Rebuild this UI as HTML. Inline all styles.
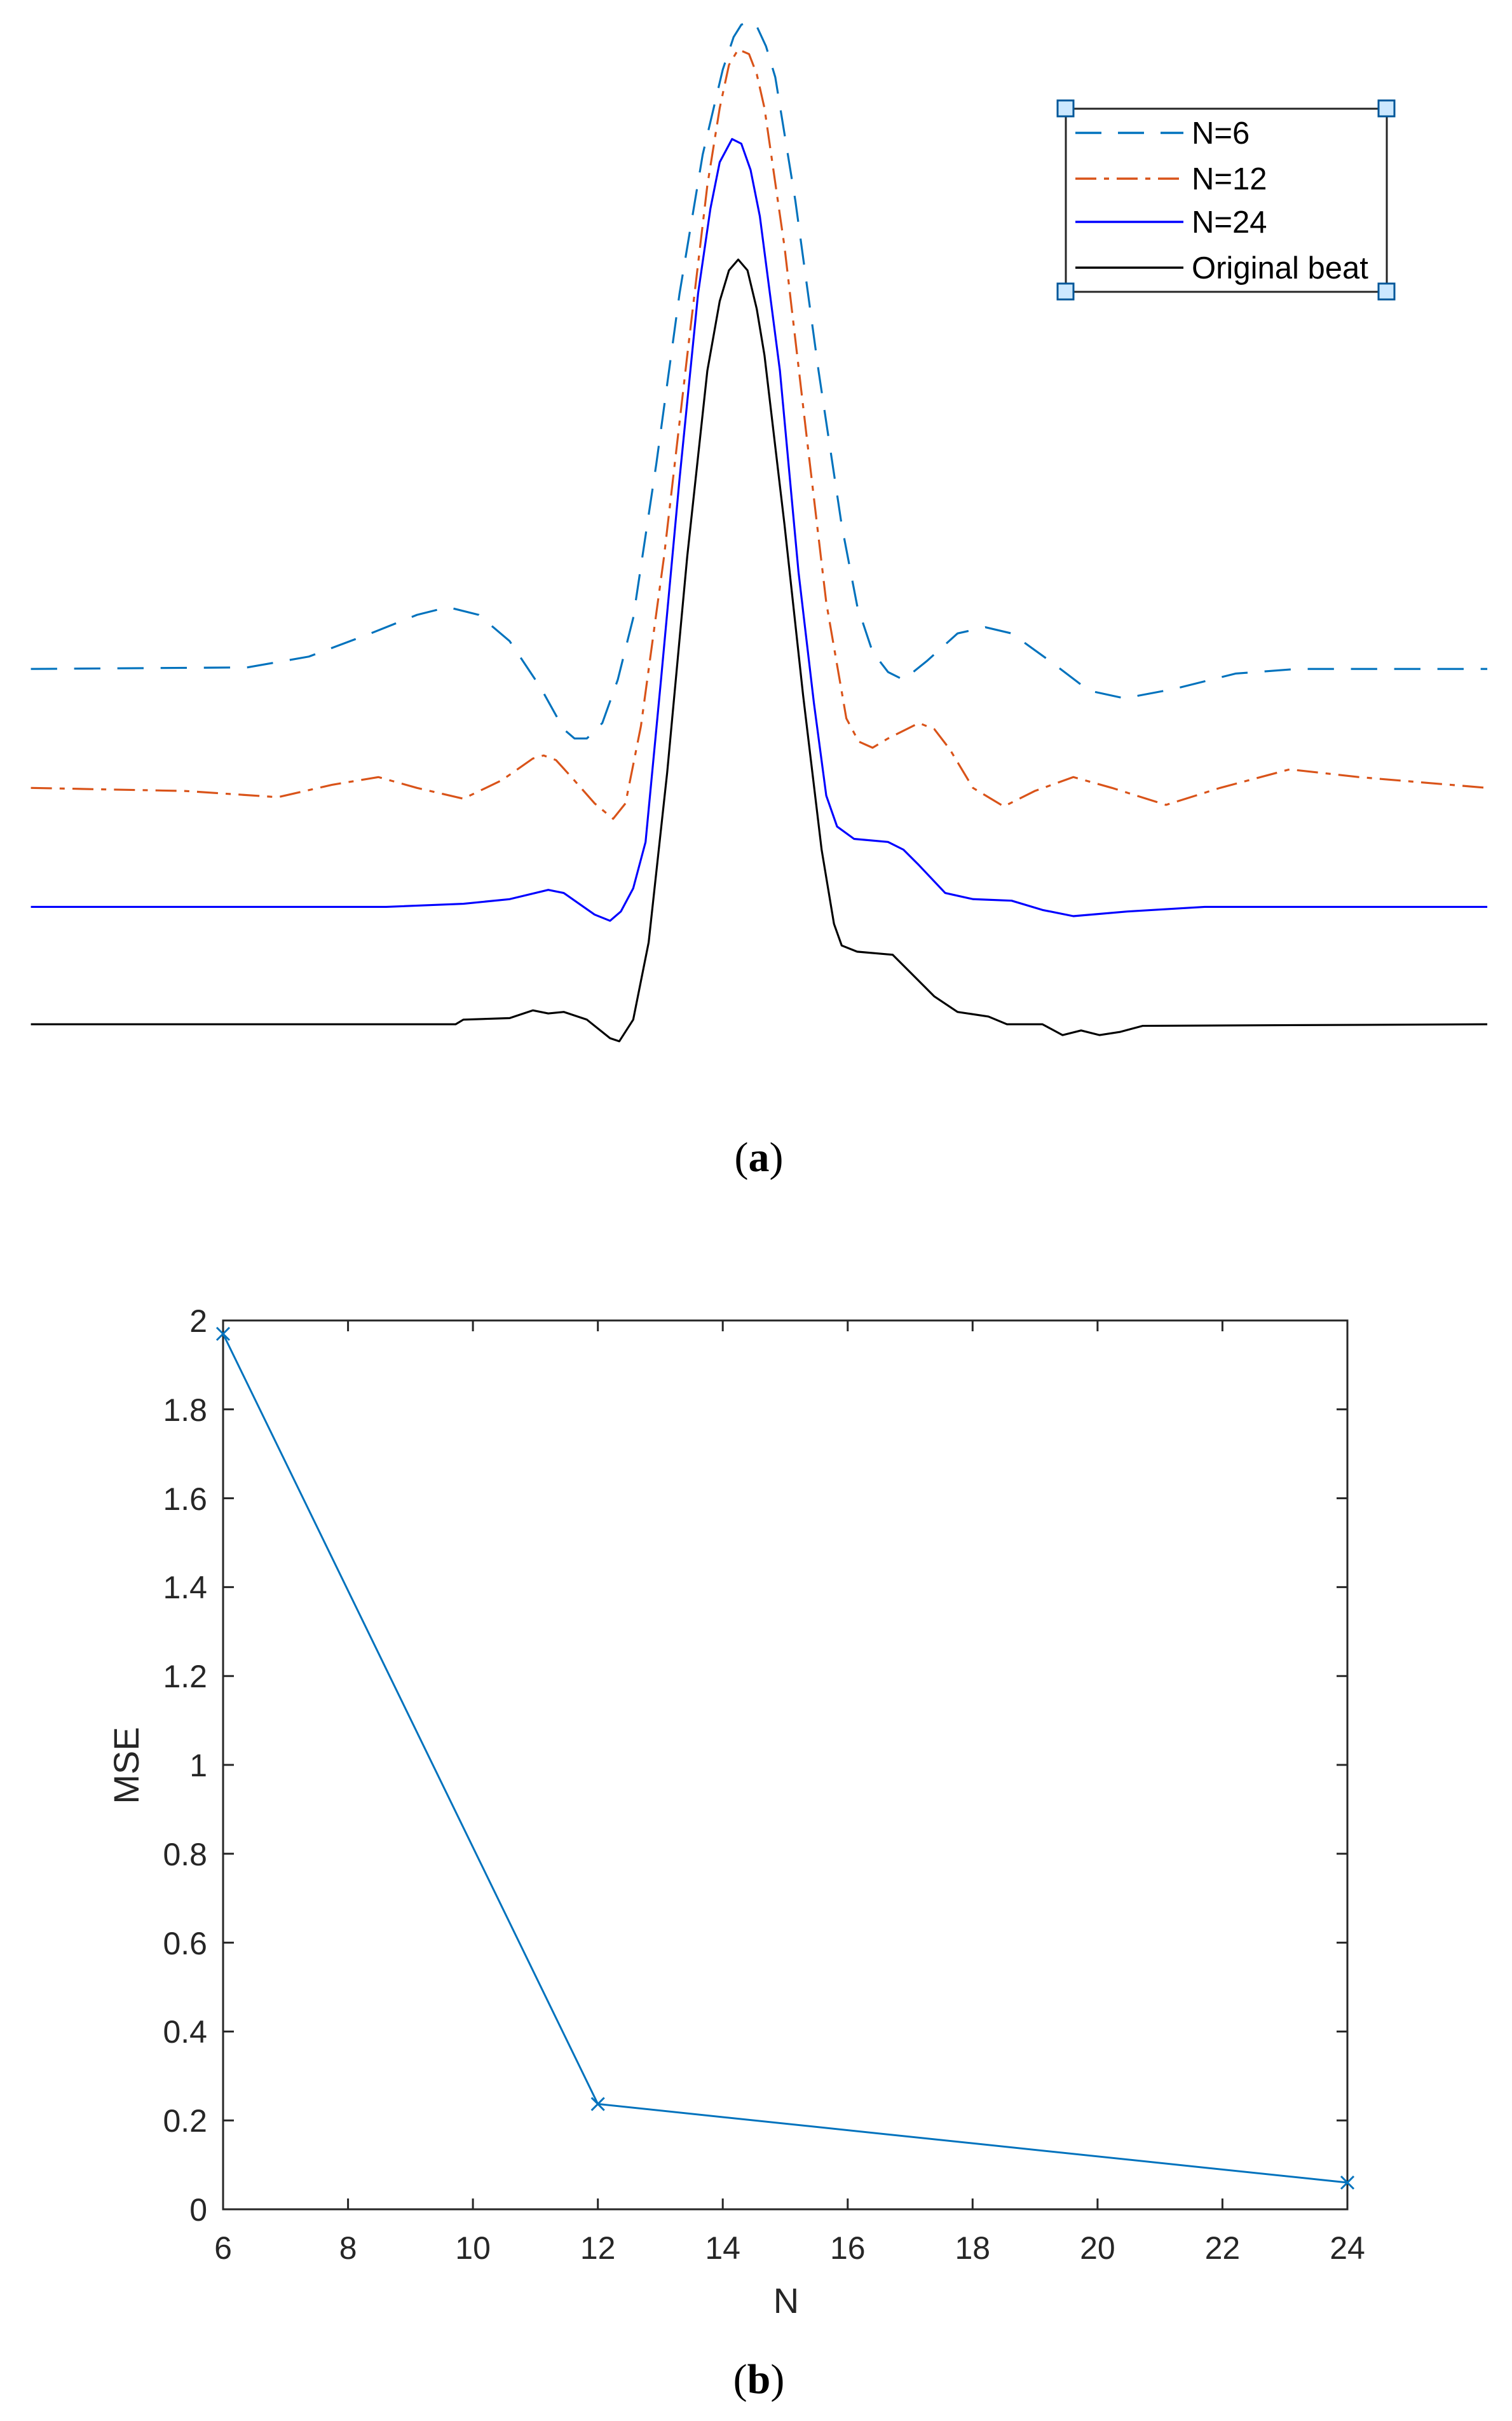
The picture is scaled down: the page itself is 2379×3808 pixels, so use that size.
<!DOCTYPE html>
<html><head><meta charset="utf-8"><style>html,body{margin:0;padding:0;background:#fff}svg{display:block}</style></head>
<body>
<svg width="2379" height="3808" viewBox="0 0 2379 3808" xmlns="http://www.w3.org/2000/svg">
<rect width="2379" height="3808" fill="#fff"/>
<g transform="scale(2.43)" fill="none" stroke-linejoin="round" stroke-linecap="butt" stroke-width="1.3">
<polyline stroke="#0072BD" stroke-dasharray="17,11" points="20,433 160,432 200,425 240,410 270,398 290,393 310,398 330,415 350,445 365,472 372,478 380,478 390,468 400,440 410,400 425,300 440,190 455,100 468,45 475,24 480,16 485,14 490,17 496,30 502,50 515,130 530,240 545,340 555,392 565,422 575,435 585,440 600,428 620,410 638,406 655,410 680,428 705,447 728,452 760,446 800,436 840,433 963,433"/>
<polyline stroke="#D95319" stroke-dasharray="13.6,5,3.3,5" points="20,510 120,512 180,516 215,508 245,503 270,510 300,517 325,505 345,491 352,489 360,492 370,503 385,520 397,530 405,520 415,470 430,360 445,230 458,120 466,70 472,42 478,32 485,35 490,48 495,70 508,160 522,280 535,390 548,465 556,480 565,484 575,478 595,468 605,472 615,485 630,510 650,522 670,512 695,503 720,510 755,521 790,510 835,498 880,503 963,510"/>
<polyline stroke="#0000FF" points="20,587 150,587 250,587 300,585 330,582 355,576 365,578 375,585 385,592 395,596 402,590 410,575 418,545 428,440 440,310 452,190 460,135 466,105 474,90 480,93 486,110 492,140 505,240 517,370 527,455 535,515 542,535 553,543 575,545 585,550 595,560 612,578 630,582 655,583 675,589 695,593 730,590 780,587 963,587"/>
<polyline stroke="#000" points="20,663 295,663 300,660 330,659 345,654 355,656 365,655 380,660 395,672 401,674 410,660 420,610 432,500 445,360 458,240 466,195 472,175 478,168 484,175 490,200 495,230 508,340 520,450 532,550 540,598 545,612 555,616 578,618 590,630 605,645 620,655 640,658 652,663 675,663 688,670 700,667 712,670 725,668 740,664 963,663"/>
</g>
<!-- legend -->
<rect x="1677" y="171" width="505" height="288" fill="#fff" stroke="#262626" stroke-width="3"/>
<g stroke-width="3.5" fill="none">
<line x1="1692" y1="209" x2="1862" y2="209" stroke="#0072BD" stroke-dasharray="41,26"/>
<line x1="1692" y1="281" x2="1862" y2="281" stroke="#D95319" stroke-dasharray="33,12,8,12"/>
<line x1="1692" y1="349" x2="1862" y2="349" stroke="#0000FF"/>
<line x1="1692" y1="421" x2="1862" y2="421" stroke="#000"/>
</g>
<g font-family="Liberation Sans, sans-serif" font-size="49" fill="#000">
<text x="1875" y="226">N=6</text>
<text x="1875" y="298">N=12</text>
<text x="1875" y="366">N=24</text>
<text x="1875" y="438">Original beat</text>
</g>
<g fill="#cce8ff" stroke="#00579a" stroke-width="3">
<rect x="1664" y="158" width="25" height="25"/><rect x="2169" y="158" width="25" height="25"/>
<rect x="1664" y="446" width="25" height="25"/><rect x="2169" y="446" width="25" height="25"/>
</g>
<text x="1194" y="1842" text-anchor="middle" font-family="Liberation Serif, serif" font-size="66" fill="#000">(<tspan font-weight="bold">a</tspan>)</text>

<!-- bottom chart -->
<g stroke="#262626" stroke-width="3" fill="none">
<rect x="351" y="2077" width="1769" height="1398"/>
<path d="M547.6,3475v-17M744.1,3475v-17M940.7,3475v-17M1137.2,3475v-17M1333.8,3475v-17M1530.3,3475v-17M1726.9,3475v-17M1923.4,3475v-17
M547.6,2077v17M744.1,2077v17M940.7,2077v17M1137.2,2077v17M1333.8,2077v17M1530.3,2077v17M1726.9,2077v17M1923.4,2077v17"/>
<path d="M351,3335.2h17M351,3195.4h17M351,3055.6h17M351,2915.8h17M351,2776h17M351,2636.2h17M351,2496.4h17M351,2356.6h17M351,2216.8h17
M2120,3335.2h-17M2120,3195.4h-17M2120,3055.6h-17M2120,2915.8h-17M2120,2776h-17M2120,2636.2h-17M2120,2496.4h-17M2120,2356.6h-17M2120,2216.8h-17"/>
</g>
<polyline fill="none" stroke="#0072BD" stroke-width="3" points="351,2098 940.7,3309.4 2120,3433"/>
<g stroke="#0072BD" stroke-width="3">
<path d="M341,2088l20,20M361,2088l-20,20M930.7,3299.4l20,20M950.7,3299.4l-20,20M2110,3423l20,20M2130,3423l-20,20"/>
</g>
<g font-family="Liberation Sans, sans-serif" font-size="50" fill="#262626" text-anchor="end">
<text x="326" y="3493">0</text>
<text x="326" y="3353">0.2</text>
<text x="326" y="3213">0.4</text>
<text x="326" y="3074">0.6</text>
<text x="326" y="2934">0.8</text>
<text x="326" y="2794">1</text>
<text x="326" y="2654">1.2</text>
<text x="326" y="2514">1.4</text>
<text x="326" y="2375">1.6</text>
<text x="326" y="2235">1.8</text>
<text x="326" y="2095">2</text>
</g>
<g font-family="Liberation Sans, sans-serif" font-size="50" fill="#262626" text-anchor="middle">
<text x="351" y="3553">6</text>
<text x="547.6" y="3553">8</text>
<text x="744.1" y="3553">10</text>
<text x="940.7" y="3553">12</text>
<text x="1137.2" y="3553">14</text>
<text x="1333.8" y="3553">16</text>
<text x="1530.3" y="3553">18</text>
<text x="1726.9" y="3553">20</text>
<text x="1923.4" y="3553">22</text>
<text x="2120" y="3553">24</text>
<text x="1237" y="3638" font-size="56">N</text>
<text transform="translate(218,2777) rotate(-90)" font-size="56">MSE</text>
</g>
<text x="1194" y="3764" text-anchor="middle" font-family="Liberation Serif, serif" font-size="66" fill="#000">(<tspan font-weight="bold">b</tspan>)</text>
</svg>
</body></html>
